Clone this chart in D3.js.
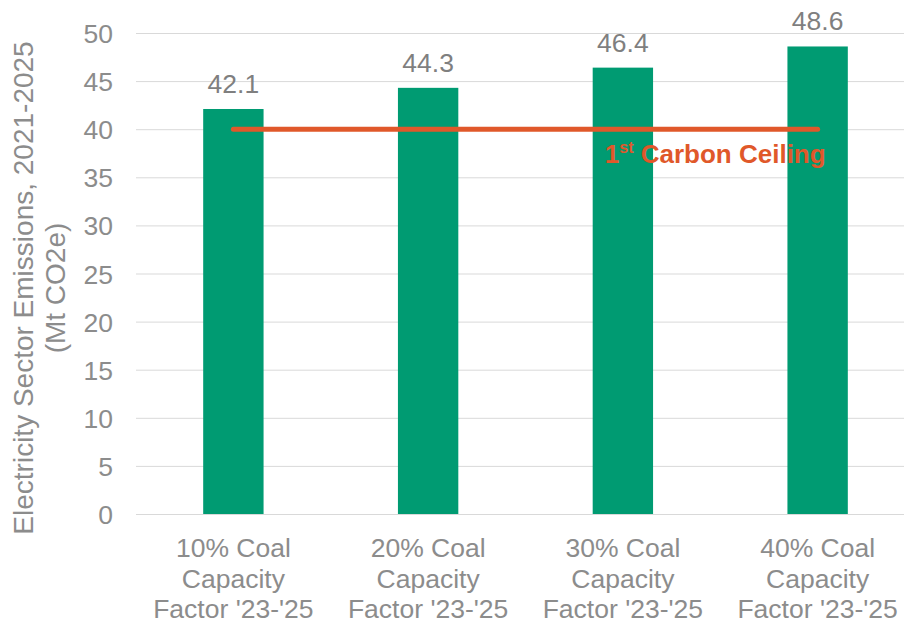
<!DOCTYPE html>
<html>
<head>
<meta charset="utf-8">
<script src="https://cdn.jsdelivr.net/npm/d3@7"></script>
<style>
  body { margin: 0; background: #fff; }
  text { font-family: "Liberation Sans", Arial, sans-serif; }
</style>
</head>
<body>
<script>
// data
var categories = [
  ["10% Coal", "Capacity", "Factor '23-'25"],
  ["20% Coal", "Capacity", "Factor '23-'25"],
  ["30% Coal", "Capacity", "Factor '23-'25"],
  ["40% Coal", "Capacity", "Factor '23-'25"]
];
var emissions = [42.1, 44.3, 46.4, 48.6];
var ceiling = 40;
var yTicks = [0, 5, 10, 15, 20, 25, 30, 35, 40, 45, 50];
var yTitle = ["Electricity Sector Emissions, 2021-2025", "(Mt CO2e)"];

var width = 904, height = 625;
var gray = "#8c8c8c";

var svg = d3.select("body").append("svg")
    .attr("width", width)
    .attr("height", height);

var x = d3.scaleBand()
    .domain(d3.range(categories.length))
    .range([136, 915])
    .paddingInner(0.69)
    .paddingOuter(0.345);

var y = d3.scaleLinear()
    .domain([0, 50])
    .range([514, 33]);

// gridlines
svg.append("g")
  .selectAll("line")
  .data(yTicks)
  .enter()
  .append("line")
    .attr("x1", 136)
    .attr("x2", width)
    .attr("y1", function(d) { return y(d) + 0.5; })
    .attr("y2", function(d) { return y(d) + 0.5; })
    .attr("stroke", "#d9d9d9")
    .attr("stroke-width", 1);

// y axis labels
var yAxis = svg.append("g")
    .attr("transform", "translate(113,0)")
    .call(d3.axisLeft(y).tickValues(yTicks).tickSize(0).tickPadding(0));
yAxis.select(".domain").remove();
yAxis.selectAll("text")
    .attr("fill", gray)
    .attr("font-size", "26.5px")
    .attr("font-family", "Liberation Sans, Arial, sans-serif")
    .attr("dy", "0.36em");

// y title
var title = svg.append("text")
    .attr("transform", "translate(0,288) rotate(-90)")
    .attr("text-anchor", "middle")
    .attr("fill", gray)
    .attr("font-size", "28px");
title.selectAll("tspan")
  .data(yTitle)
  .enter()
  .append("tspan")
    .attr("x", 0)
    .attr("y", function(d, i) { return 33 + i * 32; })
    .text(function(d) { return d; });

// bars
svg.append("g")
  .selectAll("rect")
  .data(emissions)
  .enter()
  .append("rect")
    .attr("x", function(d, i) { return x(i); })
    .attr("y", function(d) { return y(d); })
    .attr("width", x.bandwidth())
    .attr("height", function(d) { return y(0) - y(d); })
    .attr("fill", "#009b72");

// value labels
svg.append("g")
  .selectAll("text")
  .data(emissions)
  .enter()
  .append("text")
    .attr("x", function(d, i) { return x(i) + x.bandwidth() / 2; })
    .attr("y", function(d) { return y(d) - 16; })
    .attr("text-anchor", "middle")
    .attr("fill", "#7f7f7f")
    .attr("font-size", "26.5px")
    .text(function(d) { return d.toFixed(1); });

// category labels
var cat = svg.append("g")
  .selectAll("text")
  .data(categories)
  .enter()
  .append("text")
    .attr("text-anchor", "middle")
    .attr("fill", gray)
    .attr("font-size", "26.5px");
cat.selectAll("tspan")
  .data(function(d, i) { return d.map(function(s) { return {s: s, i: i}; }); })
  .enter()
  .append("tspan")
    .attr("x", function(d) { return x(d.i) + x.bandwidth() / 2; })
    .attr("y", function(d, j) { return 557 + j * 30.5; })
    .text(function(d) { return d.s; });

// carbon ceiling line
var x0 = x(0) + x.bandwidth() / 2;
var x1 = x(categories.length - 1) + x.bandwidth() / 2;
svg.append("line")
    .attr("x1", x0)
    .attr("x2", x1)
    .attr("y1", y(ceiling))
    .attr("y2", y(ceiling))
    .attr("stroke", "#e0582a")
    .attr("stroke-width", 5)
    .attr("stroke-linecap", "round");

var lbl = svg.append("text")
    .attr("x", x1 + 8)
    .attr("y", y(ceiling) + 34)
    .attr("text-anchor", "end")
    .attr("fill", "#e0582a")
    .attr("font-weight", "bold")
    .attr("font-size", "26px");
lbl.append("tspan").text("1");
lbl.append("tspan").attr("font-size", "16px").attr("dy", "-10").text("st");
lbl.append("tspan").attr("dy", "10").text(" Carbon Ceiling");
</script>
</body>
</html>
